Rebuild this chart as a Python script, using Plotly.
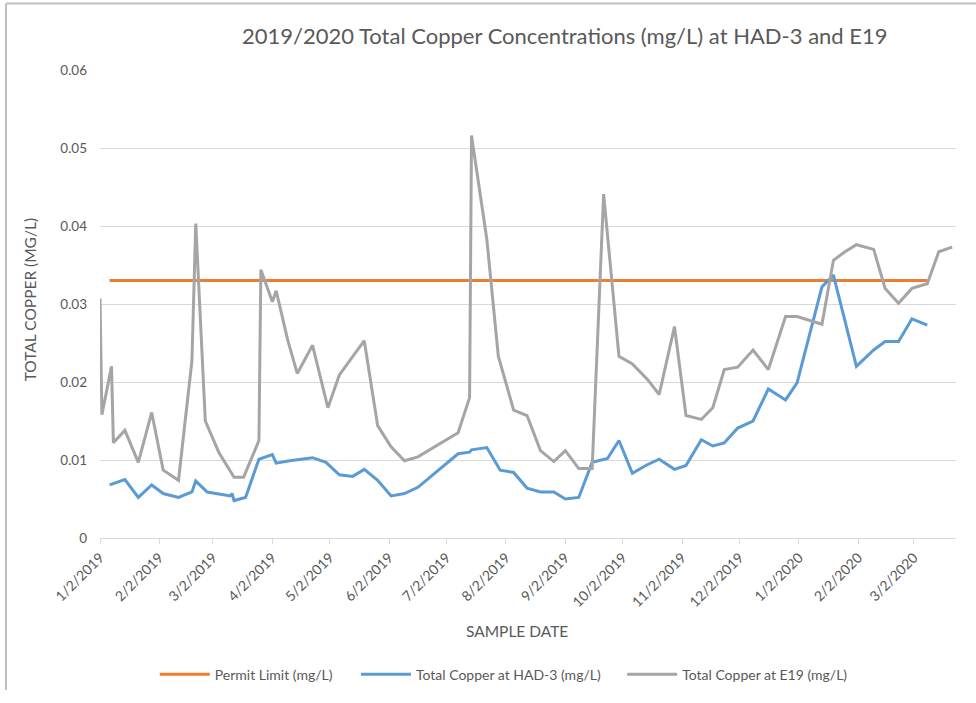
import plotly.graph_objects as go

# sample data
e19_dates = ['2019-01-02', '2019-01-03', '2019-01-08', '2019-01-09', '2019-01-15', '2019-01-22',
             '2019-01-29', '2019-02-04', '2019-02-12', '2019-02-19', '2019-02-21', '2019-02-26',
             '2019-03-05', '2019-03-13', '2019-03-18', '2019-03-26', '2019-03-27', '2019-04-02',
             '2019-04-04', '2019-04-10', '2019-04-15', '2019-04-23', '2019-05-01', '2019-05-07',
             '2019-05-20', '2019-05-27', '2019-06-03', '2019-06-10', '2019-06-17', '2019-07-08',
             '2019-07-14', '2019-07-15', '2019-07-23', '2019-07-29', '2019-08-06', '2019-08-13',
             '2019-08-20', '2019-08-27', '2019-09-02', '2019-09-09', '2019-09-16', '2019-09-22',
             '2019-09-30', '2019-10-07', '2019-10-15', '2019-10-21', '2019-10-29', '2019-11-04',
             '2019-11-12', '2019-11-18', '2019-11-24', '2019-12-01', '2019-12-09', '2019-12-17',
             '2019-12-26', '2020-01-01', '2020-01-14', '2020-01-20', '2020-01-26', '2020-02-01',
             '2020-02-10', '2020-02-16', '2020-02-23', '2020-03-01', '2020-03-09', '2020-03-15',
             '2020-03-22']
e19_values = [0.0307, 0.0158, 0.0220, 0.0122, 0.0138, 0.0097,
              0.0161, 0.0087, 0.0074, 0.0227, 0.0403, 0.0150,
              0.0110, 0.0078, 0.0078, 0.0125, 0.0344, 0.0303,
              0.0317, 0.0254, 0.0211, 0.0247, 0.0167, 0.0209,
              0.0253, 0.0144, 0.0117, 0.0099, 0.0104, 0.0135,
              0.0180, 0.0516, 0.0383, 0.0233, 0.0164, 0.0157,
              0.0112, 0.0098, 0.0112, 0.0089, 0.0089, 0.0441,
              0.0233, 0.0223, 0.0203, 0.0184, 0.0271, 0.0157,
              0.0152, 0.0167, 0.0216, 0.0219, 0.0241, 0.0216,
              0.0284, 0.0284, 0.0274, 0.0356, 0.0367, 0.0376,
              0.0370, 0.0320, 0.0301, 0.0320, 0.0326, 0.0367,
              0.0373]

had3_dates = ['2019-01-07', '2019-01-15', '2019-01-22', '2019-01-29', '2019-02-04', '2019-02-12',
              '2019-02-19', '2019-02-21', '2019-02-27', '2019-03-11', '2019-03-12', '2019-03-13',
              '2019-03-19', '2019-03-26', '2019-04-02', '2019-04-04', '2019-04-11', '2019-04-23',
              '2019-04-30', '2019-05-07', '2019-05-14', '2019-05-20', '2019-05-27', '2019-06-03',
              '2019-06-10', '2019-06-17', '2019-07-08', '2019-07-14', '2019-07-15', '2019-07-23',
              '2019-07-30', '2019-08-06', '2019-08-13', '2019-08-20', '2019-08-27', '2019-09-02',
              '2019-09-09', '2019-09-16', '2019-09-24', '2019-09-30', '2019-10-07', '2019-10-14',
              '2019-10-21', '2019-10-29', '2019-11-04', '2019-11-12', '2019-11-18', '2019-11-24',
              '2019-12-01', '2019-12-09', '2019-12-17', '2019-12-26', '2020-01-01', '2020-01-14',
              '2020-01-20', '2020-02-01', '2020-02-10', '2020-02-16', '2020-02-23', '2020-03-01',
              '2020-03-09']
had3_values = [0.0068, 0.0075, 0.0052, 0.0068, 0.0057, 0.0052,
               0.0059, 0.0073, 0.0059, 0.0054, 0.0057, 0.0048,
               0.0052, 0.0101, 0.0107, 0.0096, 0.0099, 0.0103,
               0.0097, 0.0081, 0.0079, 0.0088, 0.0074, 0.0054,
               0.0057, 0.0065, 0.0108, 0.0110, 0.0113, 0.0116,
               0.0087, 0.0084, 0.0064, 0.0059, 0.0059, 0.0050,
               0.0052, 0.0097, 0.0102, 0.0125, 0.0083, 0.0093,
               0.0101, 0.0088, 0.0093, 0.0126, 0.0118, 0.0122,
               0.0141, 0.0150, 0.0191, 0.0177, 0.0199, 0.0322,
               0.0337, 0.0220, 0.0241, 0.0252, 0.0252, 0.0281,
               0.0273]

permit_limit = 0.033
permit_values = [permit_limit for d in had3_dates]

x_tick_vals = ['2019-01-02', '2019-02-02', '2019-03-02', '2019-04-02', '2019-05-02',
               '2019-06-02', '2019-07-02', '2019-08-02', '2019-09-02', '2019-10-02',
               '2019-11-02', '2019-12-02', '2020-01-02', '2020-02-02', '2020-03-02']
x_tick_text = ['1/2/2019', '2/2/2019', '3/2/2019', '4/2/2019', '5/2/2019', '6/2/2019',
               '7/2/2019', '8/2/2019', '9/2/2019', '10/2/2019', '11/2/2019', '12/2/2019',
               '1/2/2020', '2/2/2020', '3/2/2020']
y_tick_vals = [0, 0.01, 0.02, 0.03, 0.04, 0.05, 0.06]
y_tick_text = ['0', '0.01', '0.02', '0.03', '0.04', '0.05', '0.06']

font_name = 'Lato'
text_color = '#595959'

fig = go.Figure()
fig.add_trace(go.Scatter(x=had3_dates, y=permit_values, mode='lines',
                         name='Permit Limit (mg/L)', legend='legend',
                         line=dict(color='#ED7D31', width=3)))
fig.add_trace(go.Scatter(x=had3_dates, y=had3_values, mode='lines',
                         name='Total Copper at HAD-3 (mg/L)', legend='legend2',
                         line=dict(color='#5B9BD5', width=3)))
fig.add_trace(go.Scatter(x=e19_dates, y=e19_values, mode='lines',
                         name='Total Copper at E19 (mg/L)', legend='legend3',
                         line=dict(color='#A5A5A5', width=3)))

fig.update_xaxes(type='date', range=['2019-01-02', '2020-03-24'],
                 tickmode='array', tickvals=x_tick_vals, ticktext=x_tick_text,
                 tickangle=-45, ticks='outside', ticklen=5, tickcolor='#D9D9D9',
                 showline=True, linecolor='#D9D9D9', linewidth=1,
                 showgrid=False, zeroline=False,
                 tickfont=dict(family=font_name, size=14, color=text_color))
fig.update_yaxes(range=[0, 0.06], tickmode='array', tickvals=y_tick_vals, ticktext=y_tick_text,
                 showgrid=True, gridcolor='#D9D9D9', gridwidth=1, zeroline=False,
                 showline=False, ticks='', ticklabelstandoff=12,
                 tickfont=dict(family=font_name, size=13.5, color=text_color))

# chart frame (left and top edges visible in the reference)
fig.add_shape(type='line', xref='paper', yref='paper', x0=-0.1098, x1=-0.1098, y0=-0.325, y1=1.142,
              line=dict(color='#BFBFBF', width=2))
fig.add_shape(type='line', xref='paper', yref='paper', x0=-0.1098, x1=1.05, y0=1.142, y1=1.142,
              line=dict(color='#BFBFBF', width=2))

fig.add_annotation(text='2019/2020 Total Copper Concentrations (mg/L) at HAD-3 and E19',
                   xref='paper', yref='paper', x=0.543, y=1.074, showarrow=False,
                   xanchor='center', yanchor='middle',
                   font=dict(family=font_name, size=22, color=text_color))
fig.add_annotation(text='SAMPLE DATE', xref='paper', yref='paper', x=0.487, y=-0.1996,
                   showarrow=False, xanchor='center', yanchor='middle',
                   font=dict(family=font_name, size=15.5, color=text_color))
fig.add_annotation(text='TOTAL COPPER (MG/L)', xref='paper', yref='paper', x=-0.0818, y=0.51,
                   showarrow=False, textangle=-90, xanchor='center', yanchor='middle',
                   font=dict(family=font_name, size=15.5, color=text_color))

legend_style = dict(orientation='h', y=-0.292, xanchor='left', yanchor='middle', itemwidth=50,
                    font=dict(family=font_name, size=14, color=text_color),
                    bgcolor='rgba(0,0,0,0)')

fig.update_layout(width=976, height=703,
                  margin=dict(l=100, r=20, t=70, b=162),
                  plot_bgcolor='white', paper_bgcolor='white',
                  showlegend=True,
                  legend=dict(x=0.064, **legend_style),
                  legend2=dict(x=0.299, **legend_style),
                  legend3=dict(x=0.610, **legend_style))

# drop the page's default body margin so the figure sits at the window's corner
fig.write_html('out.html', config={'displayModeBar': False},
               post_script="document.body.style.margin='0px';")
